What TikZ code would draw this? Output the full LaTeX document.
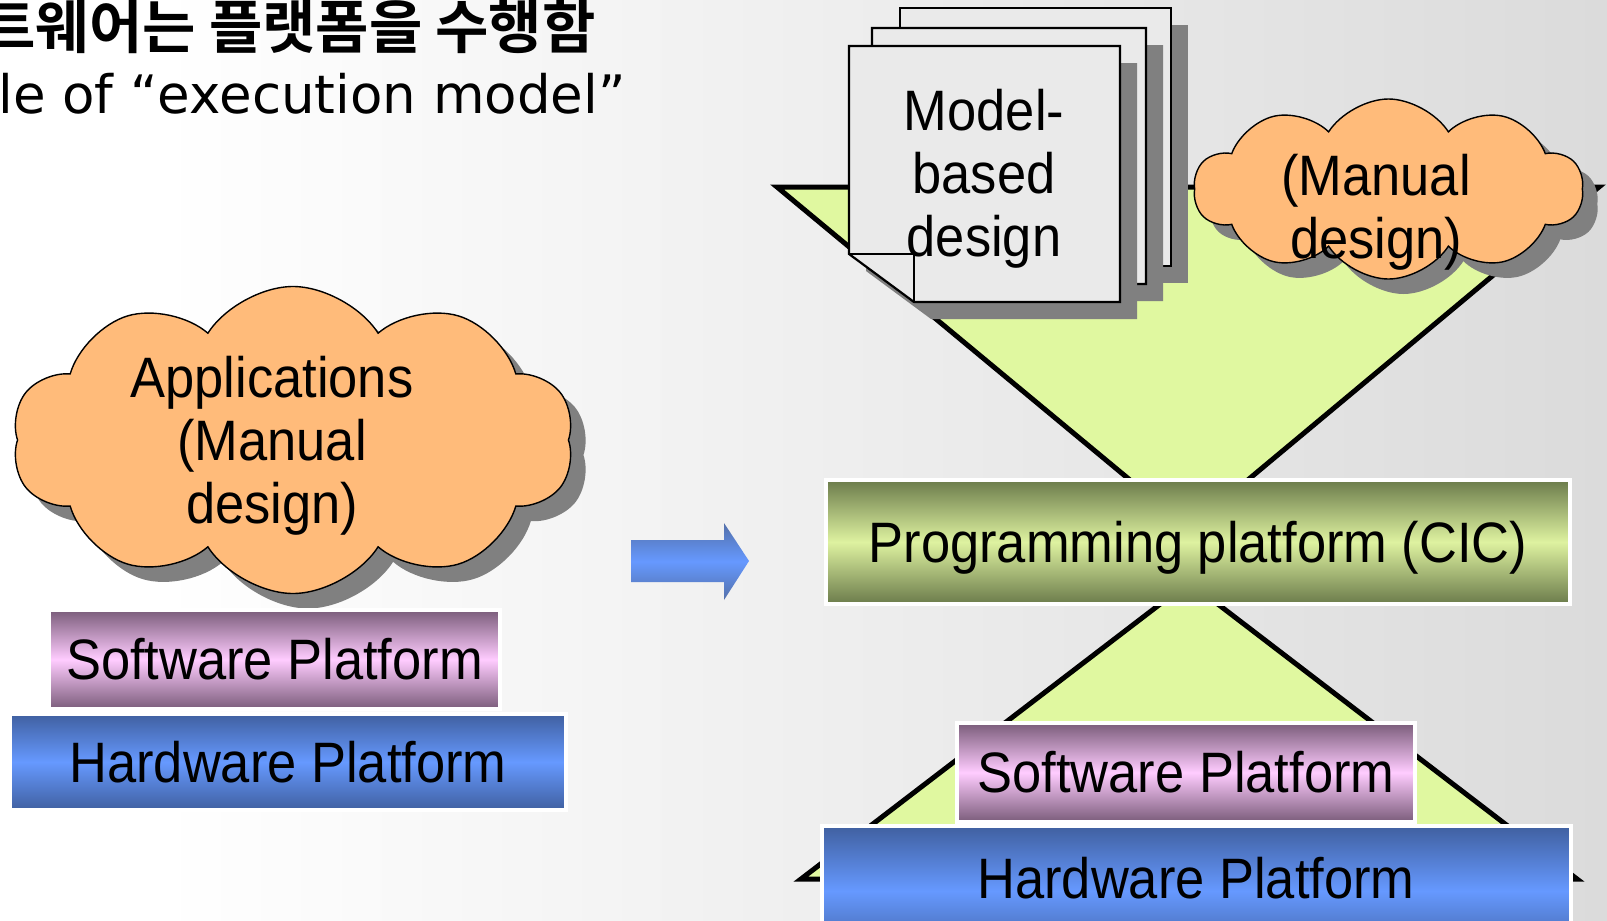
\documentclass[tikz,border=0pt]{standalone}
\usepackage{fontspec}
\usepackage{tikz}
\usetikzlibrary{shapes.symbols,shadows}
\newfontfamily\diagfont{Liberation Sans}[FakeStretch=0.92]
\newfontfamily\kofont{Noto Sans CJK KR}[UprightFont=* Bold]
\newfontfamily\titlefont{DejaVu Sans}
\definecolor{cloudorange}{RGB}{255,187,122}
\definecolor{shadowgray}{RGB}{128,128,128}
\definecolor{funnelgreen}{RGB}{224,248,160}
\definecolor{pagegray}{RGB}{234,234,234}
\definecolor{swdark}{RGB}{122,92,122}
\definecolor{swlight}{RGB}{255,204,255}
\definecolor{hwdark}{RGB}{64,96,160}
\definecolor{hwlight}{RGB}{102,153,255}
\definecolor{ccdark}{RGB}{107,123,75}
\definecolor{cclight}{RGB}{222,242,160}
\pgfdeclarehorizontalshading{slidebg}{100bp}{color(0bp)=(white); color(30bp)=(white); color(100bp)=(black!22)}

\begin{document}
\begin{tikzpicture}[
  x=0.5pt, y=-0.5pt,
  font=\diagfont\fontsize{28.5}{31.5}\selectfont,
  puff/.style={cloud, cloud puffs=10, cloud puff arc=115, cloud ignores aspect, draw=black, line width=0.7pt, fill=cloudorange, inner sep=0pt,
    drop shadow={shadow xshift=7.5pt, shadow yshift=-7.5pt, fill=shadowgray, opacity=1}},
  layer/.style={draw=white, line width=2pt, inner sep=0pt},
  swbox/.style={layer, top color=swdark, bottom color=swdark, middle color=swlight},
  hwbox/.style={layer, top color=hwdark, bottom color=hwdark, middle color=hwlight},
  ccbox/.style={layer, top color=ccdark, bottom color=ccdark, middle color=cclight},
  page/.style={draw=black, line width=1.1pt, fill=pagegray},
  pageshadow/.style={fill=shadowgray},
  funnel/.style={draw=black, line width=2.5pt, fill=funnelgreen, line join=miter},
  txt/.style={align=center, inner sep=0pt}
]
\useasboundingbox (0,0) rectangle (1607,921);
\clip (0,0) rectangle (1607,921);
\shade[shading=slidebg] (0,0) rectangle (1607,921);

% title (cut at the left edge)
\node[anchor=base west, inner sep=0pt, font=\kofont\fontsize{29}{32}\selectfont] (title) at (-18,48) {트웨어는 플랫폼을 수행함};
\node[anchor=base west, inner sep=0pt, font=\titlefont\fontsize{26.5}{30}\selectfont] (subtitle) at (-2,113) {le of “execution model”};

% left stack
\node[puff, minimum width=281pt, minimum height=153.5pt] (appcloud) at (293,440) {};
\node[txt] (apptext) at (272,446) {Applications\\(Manual\\design)};
\node[swbox, minimum width=225.5pt, minimum height=49.5pt] (swL) at (274.5,659.5) {Software Platform};
\node[hwbox, minimum width=278pt, minimum height=48pt] (hwL) at (288,762) {Hardware Platform};

% arrow
\shade[top color=hwdark!90, bottom color=hwdark!90, middle color=hwlight]
  (631,540) -- (724,540) -- (724,523) -- (749,561) -- (724,600) -- (724,582) -- (631,582) -- cycle;

% right stack
\draw[funnel] (777,187) -- (1599,187) -- (1189,529) -- cycle;
\draw[funnel] (1189,582) -- (1577,879) -- (801,879) -- cycle;
\node[ccbox, minimum width=372pt, minimum height=62pt, text depth=0pt] (cic) at (1198,542) {Programming platform (CIC)};
\node[swbox, minimum width=229pt, minimum height=49.5pt] (swR) at (1186,772.5) {Software Platform};
\node[hwbox, minimum width=374.5pt, minimum height=65pt] (hwR) at (1196.5,891) {};
\node[txt] (hwRtext) at (1196,878) {Hardware Platform};

% model documents
\fill[pageshadow] (917,25) rectangle (1188,283);
\draw[page] (900,8) rectangle (1171,266);
\fill[pageshadow] (889,45) -- (1163,45) -- (1163,301) -- (954,301) -- (889,253) -- cycle;
\draw[page] (872,28) -- (1146,28) -- (1146,284) -- (937,284) -- (872,236) -- cycle;
\fill[pageshadow] (866,63) -- (1137,63) -- (1137,319) -- (931,319) -- (866,271) -- cycle;
\draw[page] (849,46) -- (1120,46) -- (1120,302) -- (914,302) -- (849,254) -- cycle;
\draw[line width=1.1pt] (849,254) -- (914,254) -- (914,302);
\node[txt] (modeltext) at (984,179) {Model-\\based\\design};

% manual design cloud
\node[puff, minimum width=194.5pt, minimum height=90pt] (mancloud) at (1388.5,189) {};
\node[txt] (mantext) at (1376,212) {(Manual\\design)};
\end{tikzpicture}
\end{document}
